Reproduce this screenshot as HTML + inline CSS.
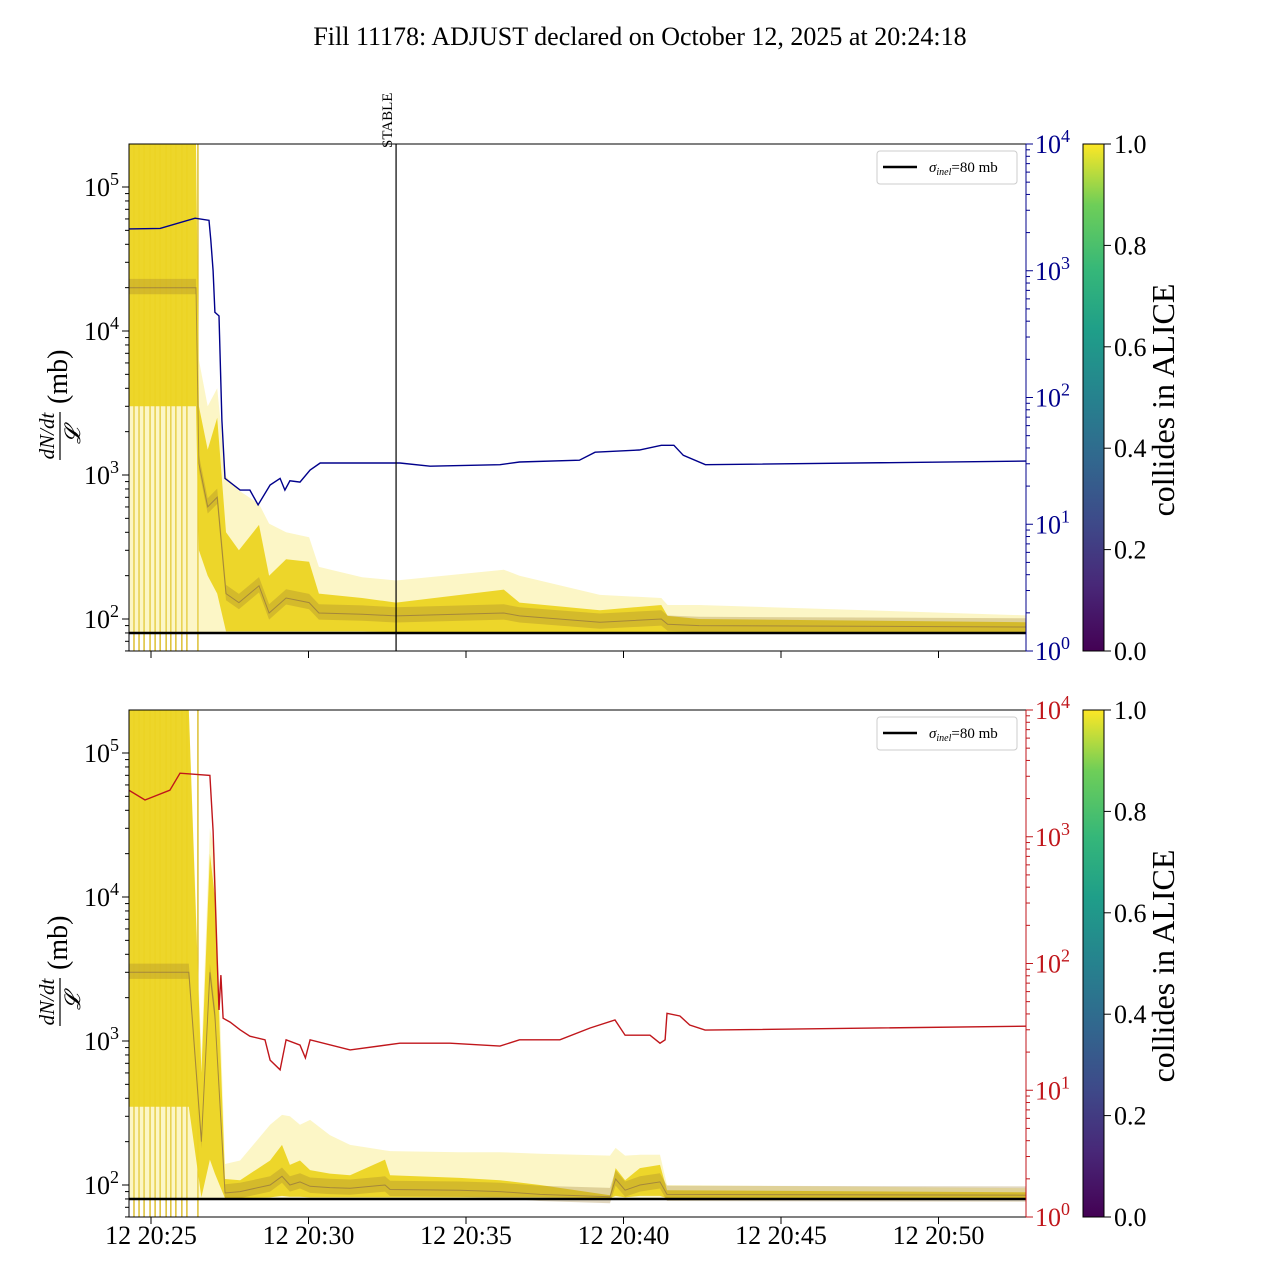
<!DOCTYPE html>
<html><head><meta charset="utf-8"><style>
html,body{margin:0;padding:0;background:#fff;}
svg{display:block;font-family:"Liberation Serif",serif;}
</style></head><body>
<svg id="chart" width="1280" height="1280" viewBox="0 0 1280 1280" xmlns="http://www.w3.org/2000/svg">
<defs>
<linearGradient id="viridis" x1="0" y1="1" x2="0" y2="0">
<stop offset="0" stop-color="#440154"/><stop offset="0.13" stop-color="#482878"/><stop offset="0.25" stop-color="#3e4989"/><stop offset="0.38" stop-color="#31688e"/><stop offset="0.5" stop-color="#26828e"/><stop offset="0.63" stop-color="#1f9e89"/><stop offset="0.75" stop-color="#35b779"/><stop offset="0.88" stop-color="#6ece58"/><stop offset="1" stop-color="#fde725"/>
</linearGradient>
<clipPath id="clipTop"><rect x="129" y="144" width="897" height="507"/></clipPath>
<clipPath id="clipBot"><rect x="129" y="710" width="897" height="507"/></clipPath>
</defs>
<text x="640" y="45" font-size="26" text-anchor="middle">Fill 11178: ADJUST declared on October 12, 2025 at 20:24:18</text>
<g id="gTop"></g>
<g id="gBot"></g>
</svg>
<script>
// x axis: minutes after 20:25
const xTickLabels = ["12 20:25","12 20:30","12 20:35","12 20:40","12 20:45","12 20:50"];
const xTickMinutes = [0,5,10,15,20,25];
const spikeTimes = [-0.54,-0.38,-0.22,-0.03,0.13,0.29,0.48,0.63,0.79,0.98,1.14,1.49];
const stableTime = 7.78;
const sigmaInel = 80;

// top panel band
const topTime   = [-0.7,1.43,1.52,1.8,2.1,2.38,2.79,3.43,3.75,4.29,5.02,5.33,6.7,7.78,11.2,11.7,14.25,16.2,16.4,17.4,27.8];
const topUpper  = [2e5,2e5,6300,3000,4000,980,780,630,460,400,370,230,195,185,220,200,147,140,125,125,106];
const topCore   = [2e5,2e5,3000,1500,2500,400,300,450,200,260,250,150,140,130,160,130,115,125,105,100,95];
const topLower  = [3000,3000,300,200,150,82,82,82,82,82,82,82,82,81,81,81,81,81,81,81,81];
const topMedian = [20000,20000,1200,600,700,150,130,170,110,140,130,110,108,105,110,105,95,100,92,90,88];

// bottom panel band
const botTime   = [-0.7,1.2,1.6,1.87,2.03,2.35,2.83,3.78,4.16,4.41,4.73,5.05,5.68,6.32,7.43,7.59,9.81,11.08,12.35,14.57,14.75,15.05,15.52,16.16,16.38,27.8];
const botUpper  = [2e5,2e5,800,3e4,2e4,140,148,262,307,300,262,283,222,190,174,172,169,169,165,160,181,160,162,162,100,95];
const botCore   = [2e5,2e5,600,2e4,1e4,110,108,148,190,138,148,127,120,117,150,117,112,108,100,85,131,108,131,138,92,89];
const botLower  = [350,350,82,150,120,81,81,82,84,83,83,82,82,82,82,82,82,82,82,81,84,82,84,84,81,81];
const botMedian = [3000,3000,200,3000,1500,88,90,100,115,100,105,98,96,95,100,93,92,90,86,83,110,92,100,105,86,85];

// right-axis series
const blueTime = [-0.7,0.29,1.4,1.84,1.9,1.97,2.03,2.16,2.25,2.35,2.83,3.14,3.4,3.78,4.1,4.25,4.41,4.73,5.05,5.37,7.9,8.86,11.08,11.7,13.6,14.1,15.5,16.2,16.6,16.9,17.6,27.8];
const blueVal  = [2140,2160,2600,2500,1750,1000,470,440,66,23,18.6,18.6,14.2,20.4,23,18.6,22,21.5,26.8,30.4,30.4,28.7,29.5,31,32,37,38.5,42,42,35,29.5,31.5];
const redTime = [-0.7,-0.19,0.6,0.92,1.87,1.97,2.1,2.16,2.22,2.29,2.51,2.83,3.14,3.62,3.78,4.1,4.29,4.73,4.9,5.05,6.32,7.9,9.49,11.08,11.7,12.98,13.94,14.73,15.05,15.84,16.16,16.32,16.38,16.79,17.1,17.59,27.78];
const redVal  = [2330,1950,2330,3170,3050,1110,107,43,81,37,34.5,30,26.7,25,17.3,14.5,25,22.7,18,25,20.8,23.5,23.5,22.3,25,25,31,35.8,27.2,27.2,23.5,25,40.5,38.5,32.7,29.8,32];

const leftTicks = [2,3,4,5];
const rightTicks = [0,1,2,3,4];
const cbTicks = ["0.0","0.2","0.4","0.6","0.8","1.0"];

const NS="http://www.w3.org/2000/svg";
function el(tag, attrs, parent){const e=document.createElementNS(NS,tag);for(const k in attrs)e.setAttribute(k,attrs[k]);parent.appendChild(e);return e;}
const X0=129,X1=1026;
function xs(t){return 151+t*31.5;}

function panel(g, top, clipId, band, rightSeries, rightColor, isBottom){
  const bot=top+507;
  const yL=v=>(top+475)-(Math.log10(v)-2)*144;
  const yR=v=>bot-Math.log10(v)*126.75;
  const cg=el('g',{'clip-path':'url(#'+clipId+')'},g);
  
  
  spikeTimes.forEach(t=>{
    const l=el('line',{x1:xs(t),x2:xs(t),y1:top,y2:bot,stroke:'#d4b000','stroke-width':1.2},cg);
    
    
  });
  const [T,U,C,L,M]=band;
  function area(hi,lo){let d='';T.forEach((t,i)=>{d+=(i?'L':'M')+xs(t).toFixed(1)+','+yL(hi[i]).toFixed(1);});for(let i=T.length-1;i>=0;i--)d+='L'+xs(T[i]).toFixed(1)+','+yL(lo[i]).toFixed(1);return d+'Z';}
  const floor=T.map(()=>81);
  const f=el('path',{d:area(U,floor),fill:'#f8e870','fill-opacity':0.4},cg);
  
  
  const c=el('path',{d:area(C,L),fill:'#ecd422','fill-opacity':0.95},cg);
  
  
  const m1=el('path',{d:area(M.map(v=>v*1.15),M.map(v=>v*0.9)),fill:'#9a7a30','fill-opacity':0.3},cg);
  
  
  let md='';T.forEach((t,i)=>{md+=(i?'L':'M')+xs(t).toFixed(1)+','+yL(M[i]).toFixed(1);});
  const ml=el('path',{d:md,fill:'none',stroke:'#6a4a50','stroke-width':1,'stroke-opacity':0.45},cg);
  
  
  const sl=el('line',{x1:X0,x2:X1,y1:yL(sigmaInel),y2:yL(sigmaInel),stroke:'#000','stroke-width':2.5},cg);
  
  
  const [rt,rv]=rightSeries;
  let rd='';rt.forEach((t,i)=>{rd+=(i?'L':'M')+xs(t).toFixed(1)+','+yR(rv[i]).toFixed(1);});
  const rl=el('path',{d:rd,fill:'none',stroke:rightColor,'stroke-width':1.4},cg);
  
  
  const fr=el('rect',{x:X0,y:top,width:X1-X0,height:507,fill:'none',stroke:'#000','stroke-width':1},g);
  
  
  leftTicks.forEach(p=>{
    const y=yL(Math.pow(10,p));
    el('line',{x1:X0-7,x2:X0,y1:y,y2:y,stroke:'#000'},g);
    const tx=el('text',{x:X0-10,y:y+9,'font-size':26,'text-anchor':'end'},g);
    
    
    tx.innerHTML='10<tspan dy="-11" font-size="18">'+p+'</tspan>';
    for(let k=2;k<10;k++){const yy=yL(k*Math.pow(10,p-1));if(yy>top&&yy<bot)el('line',{x1:X0-4,x2:X0,y1:yy,y2:yy,stroke:'#000'},g);}
  });
  for(let k=2;k<10;k++){const yy=yL(k*1e5);if(yy>top)el('line',{x1:X0-4,x2:X0,y1:yy,y2:yy,stroke:'#000'},g);}
  rightTicks.forEach(p=>{
    const y=yR(Math.pow(10,p));
    el('line',{x1:X1,x2:X1+7,y1:y,y2:y,stroke:rightColor},g);
    const tx=el('text',{x:X1+9,y:y+9,'font-size':26,fill:rightColor},g);
    
    
    tx.innerHTML='10<tspan dy="-11" font-size="18">'+p+'</tspan>';
    if(p<4)for(let k=2;k<10;k++){const yy=yR(k*Math.pow(10,p));el('line',{x1:X1,x2:X1+4,y1:yy,y2:yy,stroke:rightColor},g);}
  });
  el('line',{x1:X1,x2:X1,y1:top,y2:bot,stroke:rightColor,'stroke-width':1},g);
  xTickMinutes.forEach((m,i)=>{
    const x=xs(m);
    el('line',{x1:x,x2:x,y1:bot,y2:bot+7,stroke:'#000'},g);
    if(isBottom){const tx=el('text',{x:x,y:bot+27,'font-size':26,'text-anchor':'middle'},g);
      
      
      tx.textContent=xTickLabels[i];}
  });
  const cy=top+256;
  const yl=el('g',{transform:'translate(62,'+cy+') rotate(-90)'},g);
  
  
  el('text',{x:-36,y:-8,'font-size':21,'font-style':'italic','text-anchor':'middle'},yl).textContent='dN/dt';
  el('line',{x1:-60,x2:-12,y1:-2,y2:-2,stroke:'#000','stroke-width':1.2},yl);
  el('text',{x:-36,y:18,'font-size':22,'font-style':'italic','text-anchor':'middle'},yl).textContent='𝓛';
  el('text',{x:-4,y:5,'font-size':28},yl).textContent='(mb)';
  const lg=el('g',{},g);
  
  
  el('rect',{x:877,y:top+7,width:140,height:33,rx:3,fill:'#fff',stroke:'#ccc'},lg);
  el('line',{x1:883,x2:917,y1:top+23,y2:top+23,stroke:'#000','stroke-width':2.5},lg);
  const lt=el('text',{x:929,y:top+28,'font-size':15},lg);
  
  
  lt.innerHTML='<tspan font-style="italic">σ</tspan><tspan font-size="10" dy="3" font-style="italic">inel</tspan><tspan dy="-3">=80 mb</tspan>';
  const cb=el('g',{},g);
  
  
  el('rect',{x:1083,y:top,width:21,height:507,fill:'url(#viridis)',stroke:'#000','stroke-width':1},cb);
  cbTicks.forEach((lab,i)=>{
    const y=bot-i*507/5;
    el('line',{x1:1104,x2:1111,y1:y,y2:y,stroke:'#000'},cb);
    const tx=el('text',{x:1114,y:y+9,'font-size':26},cb);
    
    
    tx.textContent=lab;
  });
  const ct=el('text',{transform:'translate(1174,'+cy+') rotate(-90)','font-size':32,'text-anchor':'middle'},cb);
  
  
  ct.textContent='collides in ALICE';
}
const gT=document.getElementById('gTop'), gB=document.getElementById('gBot');
panel(gT,144,'clipTop',[topTime,topUpper,topCore,topLower,topMedian],[blueTime,blueVal],'#00008b',false);
panel(gB,710,'clipBot',[botTime,botUpper,botCore,botLower,botMedian],[redTime,redVal],'#c0161b',true);
const sx=xs(stableTime);
const sLine=el('line',{x1:sx,x2:sx,y1:144,y2:651,stroke:'#000','stroke-width':1.2},gT);


const sTxt=el('text',{transform:'translate('+(sx-4)+',148) rotate(-90)','font-size':15},gT);


sTxt.textContent='STABLE';
</script>
</body></html>
